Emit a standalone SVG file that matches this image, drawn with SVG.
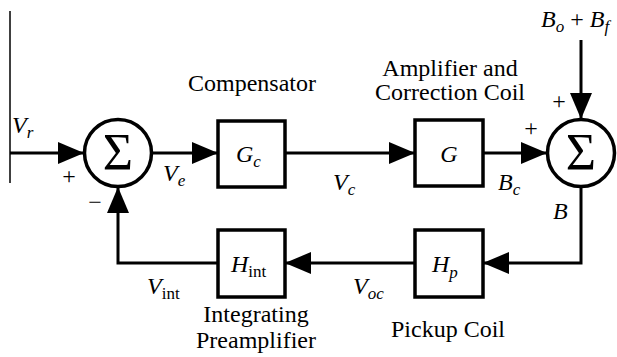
<svg xmlns="http://www.w3.org/2000/svg" width="617" height="357" viewBox="0 0 617 357">
<style>
.ln{fill:none;stroke:#000;stroke-width:3}
.bx{fill:#fff;stroke:#000;stroke-width:3.5}
.t{font-family:"Liberation Serif","Times New Roman",serif;font-size:24px;fill:#000}
.i{font-style:italic}
.s{font-size:17px}
.sig{font-family:"Liberation Serif","Times New Roman",serif;font-size:52px;text-anchor:middle}
</style>
<defs>
<marker id="ah" markerUnits="userSpaceOnUse" markerWidth="28" markerHeight="22" refX="26" refY="11" orient="auto">
<path d="M0,0 L26,11 L0,22 Z" fill="#000"/>
</marker>
</defs>
<g id="connectors">
<line x1="10" y1="11" x2="10" y2="183" stroke="#000" stroke-width="1.5"/>
<line class="ln" x1="10" y1="153" x2="84" y2="153" marker-end="url(#ah)"/>
<line class="ln" x1="152" y1="153" x2="218" y2="153" marker-end="url(#ah)"/>
<line class="ln" x1="285" y1="153" x2="415" y2="153" marker-end="url(#ah)"/>
<line class="ln" x1="483" y1="153" x2="547" y2="153" marker-end="url(#ah)"/>
<line class="ln" x1="581" y1="40" x2="581" y2="119" marker-end="url(#ah)"/>
<polyline class="ln" points="581,187 581,263 483,263" marker-end="url(#ah)"/>
<line class="ln" x1="415" y1="263" x2="285" y2="263" marker-end="url(#ah)"/>
<polyline class="ln" points="218,263 118,263 118,187" marker-end="url(#ah)"/>
</g>
<g id="sum1">
<circle cx="118" cy="153" r="33.5" fill="#fff" stroke="#000" stroke-width="3.5"/>
<text class="sig" x="118" y="170">Σ</text>
</g>
<g id="Gc">
<rect class="bx" x="218" y="121" width="67" height="66"/>
<text class="t" x="236" y="162"><tspan class="i">G</tspan><tspan class="i s" dy="5">c</tspan></text>
</g>
<g id="G">
<rect class="bx" x="415" y="120" width="68" height="66"/>
<text class="t i" x="449" y="162" text-anchor="middle">G</text>
</g>
<g id="sum2">
<circle cx="581" cy="153" r="33.5" fill="#fff" stroke="#000" stroke-width="3.5"/>
<text class="sig" x="581" y="170">Σ</text>
</g>
<g id="Hp">
<rect class="bx" x="415" y="230" width="68" height="67"/>
<text class="t" x="432" y="272"><tspan class="i">H</tspan><tspan class="i s" dy="6">p</tspan></text>
</g>
<g id="Hint">
<rect class="bx" x="218" y="230" width="67" height="67"/>
<text class="t" x="231" y="272"><tspan class="i">H</tspan><tspan class="s" dy="5">int</tspan></text>
</g>
<g id="labels">
<text class="t" x="188" y="91">Compensator</text>
<text class="t" x="450" y="76" text-anchor="middle">Amplifier and</text>
<text class="t" x="450" y="100" text-anchor="middle">Correction Coil</text>
<text class="t" x="256" y="322" text-anchor="middle">Integrating</text>
<text class="t" x="256" y="348" text-anchor="middle">Preamplifier</text>
<text class="t" x="448" y="337" text-anchor="middle">Pickup Coil</text>
<text class="t" x="12" y="133"><tspan class="i">V</tspan><tspan class="i s" dy="5">r</tspan></text>
<text class="t" x="163" y="181"><tspan class="i">V</tspan><tspan class="i s" dy="5">e</tspan></text>
<text class="t" x="333" y="190"><tspan class="i">V</tspan><tspan class="i s" dy="5">c</tspan></text>
<text class="t" x="498" y="190"><tspan class="i">B</tspan><tspan class="i s" dy="5">c</tspan></text>
<text class="t i" x="553" y="219">B</text>
<text class="t" x="353" y="294"><tspan class="i">V</tspan><tspan class="i s" dy="5">oc</tspan></text>
<text class="t" x="147" y="294"><tspan class="i">V</tspan><tspan class="s" dy="5">int</tspan></text>
<text class="t" x="541" y="27"><tspan class="i">B</tspan><tspan class="i s" dy="5">o</tspan><tspan dy="-5"> + </tspan><tspan class="i">B</tspan><tspan class="i s" dy="5">f</tspan></text>
<text class="t" x="69" y="184" text-anchor="middle">+</text>
<text class="t" x="95" y="210" text-anchor="middle">−</text>
<text class="t" x="531" y="136" text-anchor="middle">+</text>
<text class="t" x="559" y="109" text-anchor="middle">+</text>
</g>
</svg>
